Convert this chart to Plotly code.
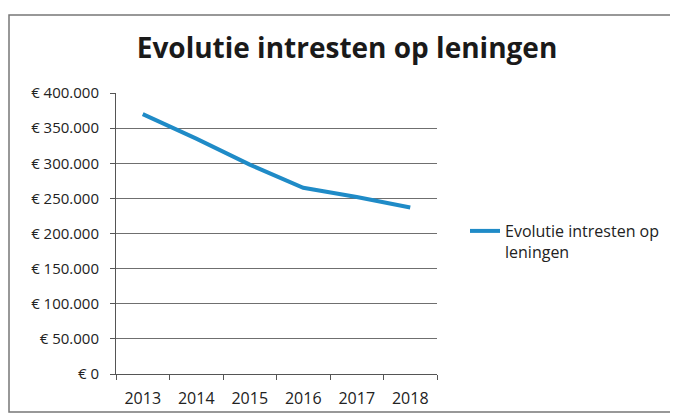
import plotly.graph_objects as go

years = ["2013", "2014", "2015", "2016", "2017", "2018"]
interest = [370000, 335000, 298000, 265000, 252000, 237000]
series_name = "Evolutie intresten op<br>leningen"
title_text = "Evolutie intresten op leningen"
y_tickvals = [0, 50000, 100000, 150000, 200000, 250000, 300000, 350000, 400000]
y_ticktext = ["€ 0", "€ 50.000", "€ 100.000", "€ 150.000", "€ 200.000",
              "€ 250.000", "€ 300.000", "€ 350.000", "€ 400.000"]

# The page body keeps its default 8px margin, so the figure starts at (8, 8).
W, H = 670, 408
L, R, T, B = 108, 241, 85, 42
PW, PH = W - L - R, H - T - B

fig = go.Figure()
fig.add_trace(go.Scatter(
    x=years, y=interest, mode="lines", name=series_name,
    line=dict(color="#1f8bc7", width=4),
))

fig.update_layout(
    width=W, height=H,
    margin=dict(l=L, r=R, t=T, b=B, autoexpand=False),
    paper_bgcolor="white", plot_bgcolor="white",
    font=dict(family="Open Sans", color="#222222"),
    title=dict(text=title_text, x=339 / W, xanchor="center",
               y=1 - 40 / H, yanchor="middle",
               font=dict(size=28, color="#1a1a1a", family="Open Sans",
                         weight="bold")),
    showlegend=True,
    legend=dict(x=(457 - L) / PW, xanchor="left",
                y=(T + PH - 206) / PH, yanchor="top",
                valign="top", font=dict(size=16, color="#222222"),
                bgcolor="rgba(0,0,0,0)", tracegroupgap=0),
    xaxis=dict(type="category", range=[-0.5, 5.5], tickson="boundaries",
               ticks="outside", ticklen=5, tickcolor="#555555",
               showline=True, linecolor="#555555", linewidth=1,
               showgrid=False, tickfont=dict(size=16, color="#222222"),
               ticklabelstandoff=10, automargin=False, fixedrange=True),
    yaxis=dict(range=[0, 400000], tickvals=y_tickvals, ticktext=y_ticktext,
               ticks="outside", ticklen=5, tickcolor="#555555",
               showline=True, linecolor="#555555", linewidth=1,
               showgrid=True, gridcolor="#6f6f6f", gridwidth=1,
               zeroline=False, ticklabelstandoff=8, automargin=False,
               tickfont=dict(size=15, color="#222222"), fixedrange=True),
    shapes=[dict(type="rect", xref="paper", yref="paper",
                 x0=(1 - L) / PW, x1=(664 - L) / PW,
                 y0=(T + PH - 404) / PH, y1=(T + PH - 7) / PH,
                 line=dict(color="#777777", width=1.5), layer="below")],
)

fig.write_html("out.html")
